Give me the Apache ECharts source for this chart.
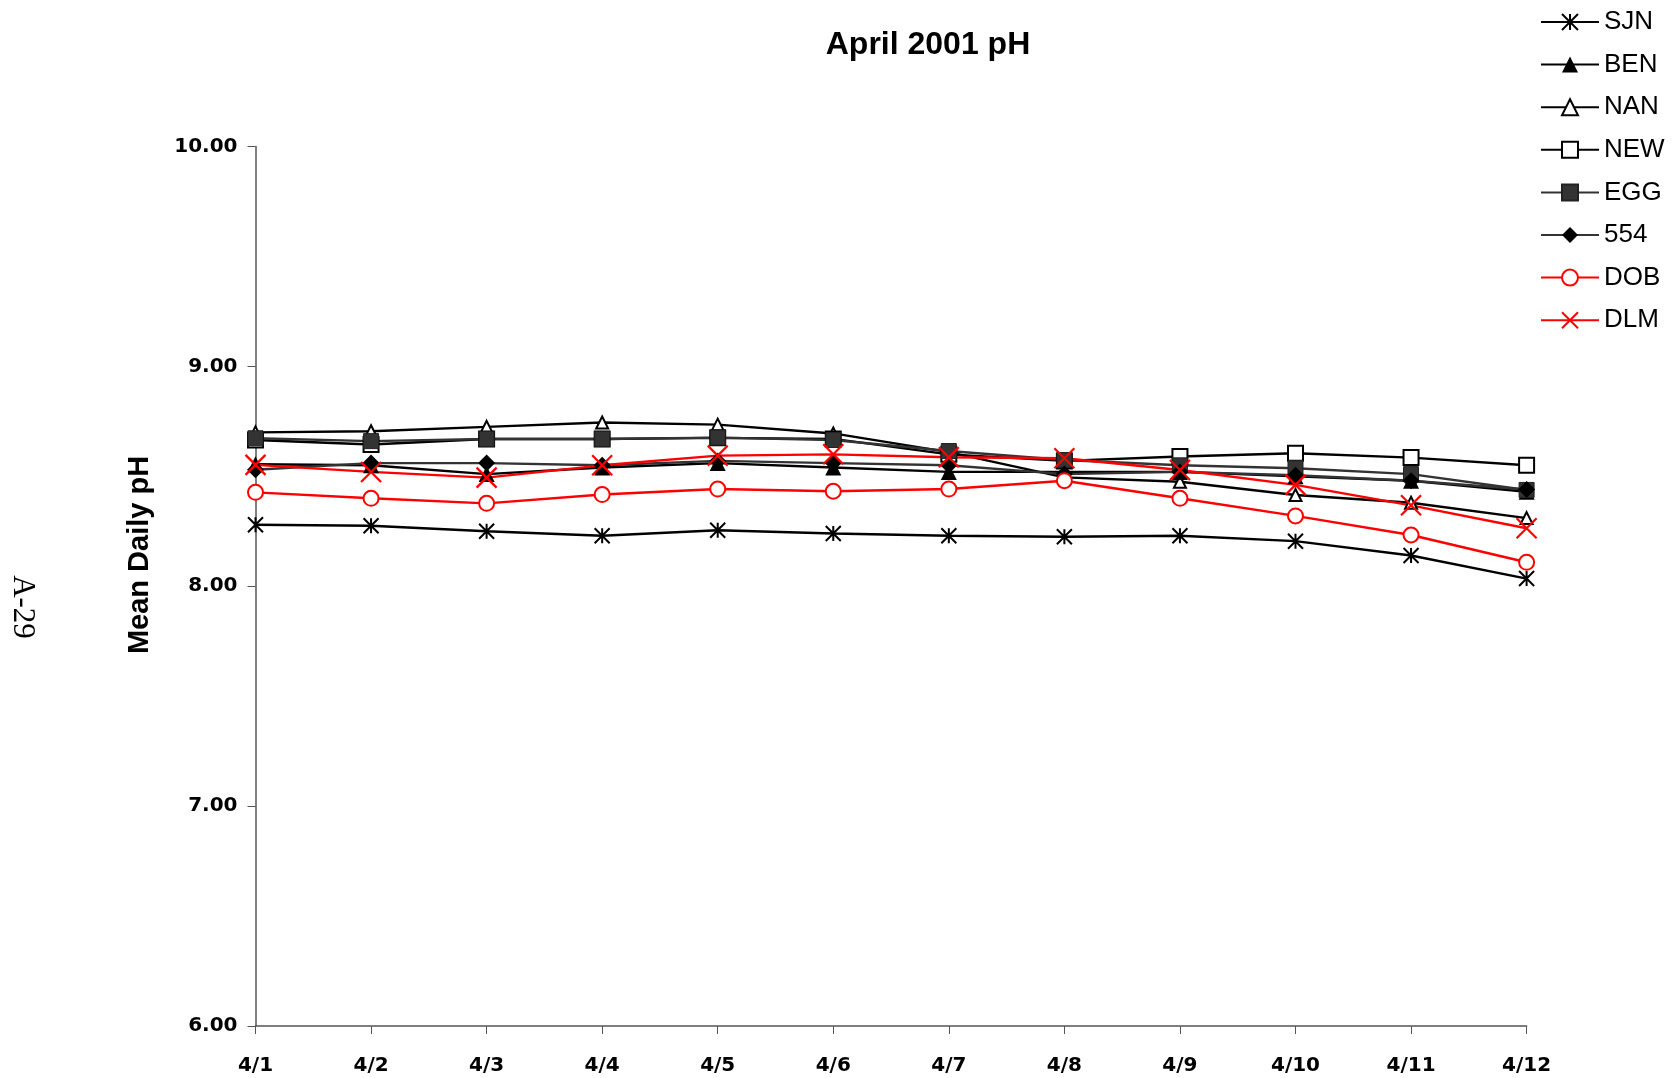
<!DOCTYPE html>
<html>
<head>
<meta charset="utf-8">
<script src="https://cdn.jsdelivr.net/npm/echarts@6/dist/echarts.min.js"></script>
<style>html,body{margin:0;padding:0;background:#fff}#c{width:1676px;height:1078px}</style>
</head>
<body>
<div id="c"></div>
<script>
const categories = ['4/1','4/2','4/3','4/4','4/5','4/6','4/7','4/8','4/9','4/10','4/11','4/12'];
const yTicks = [6, 7, 8, 9, 10];
const SJN = [8.28, 8.275, 8.25, 8.23, 8.255, 8.24, 8.23, 8.225, 8.23, 8.205, 8.14, 8.035];
const BEN = [8.555, 8.55, 8.51, 8.54, 8.56, 8.54, 8.52, 8.52, 8.52, 8.50, 8.48, 8.43];
const NAN = [8.70, 8.705, 8.725, 8.745, 8.735, 8.695, 8.61, 8.495, 8.475, 8.415, 8.38, 8.31];
const NEW = [8.665, 8.645, 8.67, 8.67, 8.675, 8.67, 8.60, 8.57, 8.59, 8.605, 8.585, 8.55];
const EGG = [8.673, 8.66, 8.67, 8.67, 8.676, 8.665, 8.615, 8.574, 8.55, 8.537, 8.51, 8.438];
const S554 = [8.53, 8.56, 8.56, 8.55, 8.57, 8.56, 8.55, 8.51, 8.52, 8.505, 8.48, 8.44];
const DOB = [8.427, 8.40, 8.377, 8.417, 8.442, 8.432, 8.442, 8.48, 8.40, 8.32, 8.233, 8.109];
const DLM = [8.552, 8.52, 8.494, 8.55, 8.594, 8.60, 8.587, 8.582, 8.529, 8.461, 8.368, 8.264];

const STAR = 'path://M0,0L20,20M0,20L20,0M10,0L10,20';
const XMARK = 'path://M0,0L20,20M0,20L20,0';

function mk(name, data, color, symbol, size, fill, border, bw) {
  return {
    name: name, type: 'line', data: data, symbol: symbol, symbolSize: size,
    showAllSymbol: true, animation: false,
    lineStyle: { color: color, width: 2.4 },
    itemStyle: { color: fill, borderColor: border, borderWidth: bw }
  };
}

const chart = echarts.init(document.getElementById('c'), null, { renderer: 'canvas' });
chart.setOption({
  backgroundColor: '#fff',
  animation: false,
  title: {
    text: 'April 2001 pH', left: 923, top: 24, textAlign: 'center',
    textStyle: { fontFamily: 'Liberation Sans', fontWeight: 'bold', fontSize: 32, color: '#000' }
  },
  legend: {
    orient: 'vertical', left: 1535, top: 4,
    itemWidth: 58, itemHeight: 20, itemGap: 16.6,
    textStyle: { fontFamily: 'Liberation Sans', fontSize: 26, color: '#000' },
    data: ['SJN','BEN','NAN','NEW','EGG','554','DOB','DLM']
  },
  grid: { left: 255.5, right: 149.4, top: 146.5, bottom: 52, containLabel: false },
  xAxis: {
    type: 'category', data: categories, boundaryGap: false,
    axisLine: { lineStyle: { color: '#555', width: 1.5 } },
    axisTick: { show: true, inside: false, length: 8, alignWithLabel: true, lineStyle: { color: '#555' } },
    axisLabel: { margin: 30, fontFamily: 'DejaVu Sans', fontWeight: 'bold', fontSize: 20, color: '#000' },
    splitLine: { show: false }
  },
  yAxis: {
    type: 'value', min: yTicks[0], max: yTicks[yTicks.length-1], interval: 1,
    axisLine: { show: true, lineStyle: { color: '#555', width: 1.5 } },
    axisTick: { show: true, inside: false, length: 8, lineStyle: { color: '#555' } },
    axisLabel: { margin: 18, fontFamily: 'DejaVu Sans', fontWeight: 'bold', fontSize: 20, color: '#000',
      formatter: v => v.toFixed(2) },
    splitLine: { show: false }
  },
  graphic: [{
    type: 'text', x: 22, y: 607, rotation: -Math.PI / 2,
    style: { text: 'A-29', fontFamily: 'Liberation Serif', fontSize: 31, fill: '#000', align: 'center', verticalAlign: 'middle' }
  }, {
    type: 'text', x: 140, y: 555, rotation: Math.PI / 2,
    style: { text: 'Mean Daily pH', fontFamily: 'Liberation Sans', fontWeight: 'bold', fontSize: 29, fill: '#000', align: 'center', verticalAlign: 'middle' }
  }],
  series: [
    mk('SJN', SJN, '#000', STAR, 15, '#000', '#000', 2),
    mk('BEN', BEN, '#000', 'triangle', 16, '#000', '#000', 0),
    mk('NAN', NAN, '#000', 'triangle', 12, '#fff', '#000', 2),
    mk('NEW', NEW, '#000', 'rect', 15, '#fff', '#000', 2),
    mk('EGG', EGG, '#333', 'rect', 15, '#333', '#222', 1),
    mk('554', S554, '#333', 'diamond', 17, '#000', '#000', 0),
    mk('DOB', DOB, '#ff0000', 'circle', 15, '#fff', '#ff0000', 2),
    mk('DLM', DLM, '#ff0000', XMARK, 20, '#ff0000', '#ff0000', 2.2)
  ]
});
</script>
</body>
</html>
